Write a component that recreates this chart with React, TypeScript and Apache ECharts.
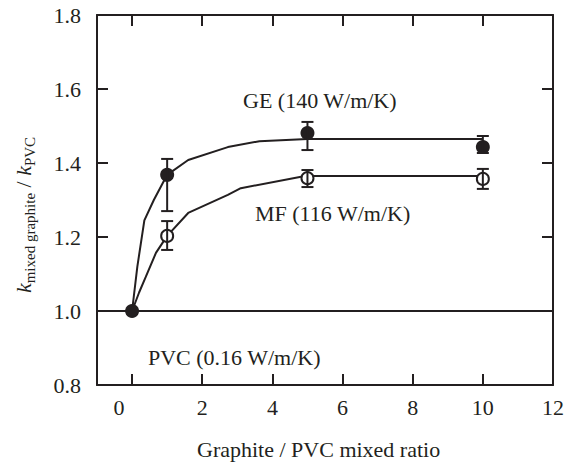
import React, { useEffect, useRef } from "react";
import * as echarts from "echarts";

const INK = "#231f20";
const FONT = '"Liberation Serif", "Times New Roman", serif';

// x tick values and labels
const xTickValues = [0, 2, 4, 6, 8, 10];
const xLabelValues = [0, 2, 4, 6, 8, 10, 12];

// fitted curves
const geCurveX = [0, 0.15, 0.35, 0.62, 1, 1.6, 2.73, 3.63, 5, 10];
const geCurveY = [1.0, 1.12, 1.245, 1.3, 1.368, 1.408, 1.443, 1.459, 1.465, 1.465];
const mfCurveX = [0, 0.2, 0.39, 0.68, 1, 1.6, 2.73, 3.1, 4.93, 10];
const mfCurveY = [1.0, 1.05, 1.092, 1.157, 1.203, 1.265, 1.314, 1.332, 1.365, 1.365];
const pvcLineX = [-1, 12];
const pvcLineY = [1.0, 1.0];

// measured points
const pointX = [1, 5, 10];
const geY = [1.368, 1.481, 1.443];
const geLow = [1.27, 1.435, 1.427];
const geHigh = [1.411, 1.511, 1.473];
const mfY = [1.203, 1.359, 1.357];
const mfLow = [1.165, 1.335, 1.33];
const mfHigh = [1.243, 1.381, 1.384];
const pvcPointX = [0];
const pvcPointY = [1.0];

const zip = (xs: number[], ys: number[]) => xs.map((x, i) => [x, ys[i]]);

export default function App() {
  const ref = useRef<HTMLDivElement>(null);
  useEffect(() => {
    if (!ref.current) return;
    const chart = echarts.init(ref.current, null, { renderer: "svg" });
    const lineSeries = (data: number[][]) => ({
      type: "line",
      data,
      symbol: "none",
      smooth: false,
      lineStyle: { color: INK, width: 2 },
      z: 2,
    });
    const errData = (xs: number[], lo: number[], hi: number[]) =>
      xs.map((x, i) => [x, lo[i], hi[i]]);
    const errSeries = (data: number[][]) => ({
      type: "custom",
      data,
      z: 5,
      encode: { x: 0, y: [1, 2] },
      renderItem: (params: any, api: any) => {
        const x = api.value(0);
        const lo = api.coord([x, api.value(1)]);
        const hi = api.coord([x, api.value(2)]);
        const hw = 6;
        const style = { stroke: INK, lineWidth: 2 };
        return {
          type: "group",
          children: [
            { type: "line", shape: { x1: lo[0], y1: lo[1], x2: hi[0], y2: hi[1] }, style },
            { type: "line", shape: { x1: lo[0] - hw, y1: lo[1], x2: lo[0] + hw, y2: lo[1] }, style },
            { type: "line", shape: { x1: hi[0] - hw, y1: hi[1], x2: hi[0] + hw, y2: hi[1] }, style },
          ],
        };
      },
    });
    const axisCommon = {
      type: "value",
      axisLine: { show: true, onZero: false, lineStyle: { color: INK, width: 2 } },
      splitLine: { show: false },
    };
    chart.setOption({
      animation: false,
      grid: { left: 97, right: 8, top: 15, bottom: 77, containLabel: false },
      xAxis: [
        {
          ...axisCommon,
          min: -1,
          max: 12,
          position: "bottom",
          axisTick: { show: true, inside: true, length: 11, lineStyle: { color: INK, width: 2 }, customValues: xTickValues },
          axisLabel: {
            customValues: xLabelValues,
            fontSize: 22,
            fontFamily: FONT,
            color: INK,
            margin: 11,
            formatter: (v: number) => (v === 0 ? "{z|0}" : String(v)),
            rich: { z: { fontSize: 22, fontFamily: FONT, color: INK, padding: [0, 26, 0, 0] } },
          },
        },
        {
          ...axisCommon,
          min: -1,
          max: 12,
          position: "top",
          axisTick: { show: true, inside: true, length: 11, lineStyle: { color: INK, width: 2 }, customValues: xTickValues },
          axisLabel: { show: false },
        },
      ],
      yAxis: [
        {
          ...axisCommon,
          min: 0.8,
          max: 1.8,
          interval: 0.2,
          position: "left",
          axisTick: { show: true, inside: true, length: 11, lineStyle: { color: INK, width: 2 } },
          axisLabel: {
            fontSize: 22,
            fontFamily: FONT,
            color: INK,
            margin: 16,
            padding: [13, 0, 0, 0],
            formatter: (v: number) => v.toFixed(1),
          },
        },
        {
          ...axisCommon,
          min: 0.8,
          max: 1.8,
          interval: 0.2,
          position: "right",
          axisTick: { show: true, inside: true, length: 11, lineStyle: { color: INK, width: 2 } },
          axisLabel: { show: false },
        },
      ],
      series: [
        lineSeries(zip(pvcLineX, pvcLineY)),
        lineSeries(zip(geCurveX, geCurveY)),
        lineSeries(zip(mfCurveX, mfCurveY)),
        {
          type: "scatter",
          data: zip(pointX, mfY),
          symbol: "circle",
          symbolSize: 12,
          itemStyle: { color: "#fff", borderColor: INK, borderWidth: 2, opacity: 1 },
          z: 4,
        },
        {
          type: "scatter",
          data: zip(pointX, geY),
          symbol: "circle",
          symbolSize: 14,
          itemStyle: { color: INK, opacity: 1 },
          z: 4,
        },
        {
          type: "scatter",
          data: zip(pvcPointX, pvcPointY),
          symbol: "circle",
          symbolSize: 14,
          itemStyle: { color: INK, opacity: 1 },
          z: 4,
        },
        errSeries(errData(pointX, geLow, geHigh)),
        errSeries(errData(pointX, mfLow, mfHigh)),
      ],
      graphic: [
        { type: "text", x: 243, y: 100, style: { text: "GE (140 W/m/K)", font: `22px ${FONT}`, fill: INK, verticalAlign: "middle", align: "left" } },
        { type: "text", x: 255, y: 213, style: { text: "MF (116 W/m/K)", font: `22px ${FONT}`, fill: INK, verticalAlign: "middle", align: "left" } },
        { type: "text", x: 148, y: 357, style: { text: "PVC (0.16 W/m/K)", font: `22px ${FONT}`, fill: INK, verticalAlign: "middle", align: "left" } },
        { type: "text", x: 197, y: 449, style: { text: "Graphite / PVC mixed ratio", font: `22px ${FONT}`, fill: INK, verticalAlign: "middle", align: "left" } },
        {
          type: "text",
          x: 23,
          y: 215,
          rotation: Math.PI / 2,
          style: {
            text: "{k|k}{s|mixed graphite}{m| / }{k|k}{s|PVC}",
            align: "center",
            verticalAlign: "middle",
            fill: INK,
            rich: {
              k: { fontSize: 22, fontFamily: FONT, fontStyle: "italic", lineHeight: 28, fill: INK },
              m: { fontSize: 22, fontFamily: FONT, lineHeight: 28, fill: INK },
              s: { fontSize: 15, fontFamily: FONT, lineHeight: 15, verticalAlign: "bottom", fill: INK },
            },
          },
        },
      ],
    });
    return () => chart.dispose();
  }, []);
  return <div ref={ref} style={{ position: "absolute", left: 0, top: 0, width: 567, height: 462 }} />;
}
